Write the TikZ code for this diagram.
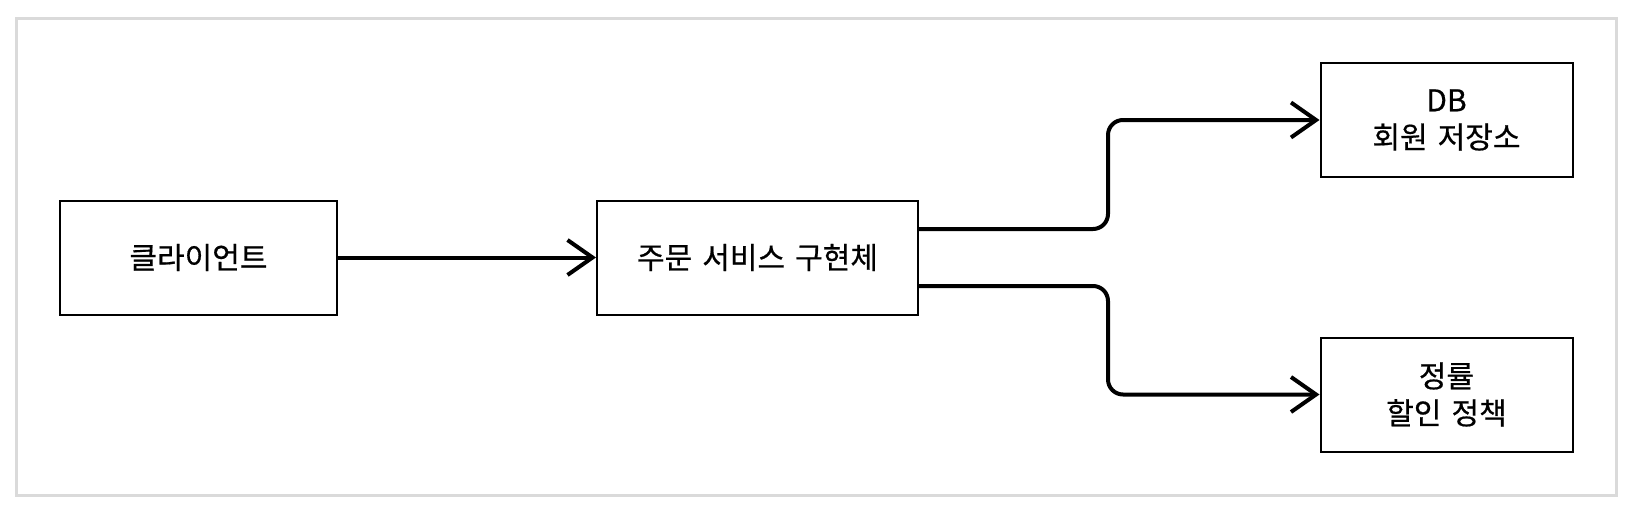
\documentclass[tikz,border=0pt]{standalone}
\usepackage{fontspec}
\setmainfont{Noto Sans CJK KR}[WordSpace=1.5,FakeBold=0.6]
\usetikzlibrary{arrows.meta}
\begin{document}
\begin{tikzpicture}[x=1pt,y=-1pt,
  box/.style={draw=black,line width=2pt,minimum width=#1,minimum height=114pt,inner sep=0pt,align=center,
    font=\fontsize{30}{37}\selectfont},
  conn/.style={line width=4pt,rounded corners=15pt,-{Straight Barb[length=25pt,width=35pt,line width=4pt]}}]
\useasboundingbox (0,0) rectangle (1634,514);
\draw[line width=3pt,color={rgb,255:red,218;green,218;blue,218}] (16.5,18.5) rectangle (1616.5,495);
\node[box=277pt] (client) at (198.5,257.5) {클라이언트};
\node[box=321pt] (svc) at (757.5,257.5) {주문 서비스 구현체};
\node[box=252pt] (db) at (1446.5,120) {DB\\회원 저장소};
\node[box=252pt] (disc) at (1446.5,394.5) {정률\\할인 정책};
\draw[conn] (client.east) -- (svc.west);
\coordinate (up) at (1108,120);
\coordinate (dn) at (1108,394.5);
\draw[conn] ([yshift=28.5pt]svc.east) -| (up) -- (db.west);
\draw[conn] ([yshift=-28.5pt]svc.east) -| (dn) -- (disc.west);
\end{tikzpicture}
\end{document}
